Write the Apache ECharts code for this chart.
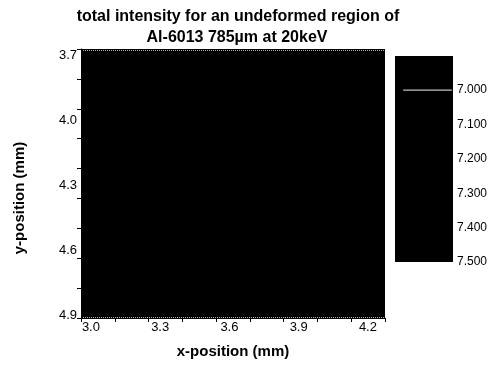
<!DOCTYPE html>
<html>
<head>
<meta charset="utf-8">
<script src="https://cdn.jsdelivr.net/npm/echarts@6/dist/echarts.min.js"></script>
<style>
  html, body { margin: 0; padding: 0; background: #fff; }
  #chart { width: 495px; height: 366px; }
</style>
</head>
<body>
<div id="chart"></div>
<script>
// Scan grid (mm): cell centres along x and y
const xCenters = [3.0, 3.2, 3.4, 3.6, 3.8, 4.0, 4.2];
const yCenters = [3.7, 3.9, 4.1, 4.3, 4.5, 4.7, 4.9];

// Total intensity per cell, one row per y position
const intensity = [
  [7.31, 7.29, 7.33, 7.30, 7.28, 7.32, 7.30],
  [7.30, 7.34, 7.31, 7.29, 7.33, 7.30, 7.31],
  [7.28, 7.31, 7.30, 7.35, 7.31, 7.29, 7.32],
  [7.32, 7.30, 7.29, 7.31, 7.30, 7.33, 7.29],
  [7.29, 7.33, 7.32, 7.30, 7.34, 7.31, 7.30],
  [7.31, 7.28, 7.30, 7.33, 7.29, 7.30, 7.32],
  [7.30, 7.32, 7.31, 7.29, 7.30, 7.31, 7.28]
];

// Axis labels
const xLabels = [3.0, 3.3, 3.6, 3.9, 4.2];
const yLabels = [3.7, 4.0, 4.3, 4.6, 4.9];

// Colour scale levels and the contour level marked on it
const scaleLevels = [6.9, 7.0, 7.1, 7.2, 7.3, 7.4, 7.5];
const scaleLabels = [7.0, 7.1, 7.2, 7.3, 7.4, 7.5];
const contourLevel = 7.0;
const levelColors = ['#000000', '#000000'];

const FONT = '"Liberation Sans", Arial, Helvetica, sans-serif';

const xRange = [2.957, 4.274];
const yRange = [3.672, 4.914];
function evenTicks(r, n) {
  const out = [];
  for (let i = 0; i <= n; i++) out.push(r[0] + (r[1] - r[0]) * i / n);
  return out;
}

const cells = [];
yCenters.forEach((y, j) => {
  xCenters.forEach((x, i) => cells.push([x, y, intensity[j][i]]));
});
const xStep = xCenters[1] - xCenters[0];
const yStep = yCenters[1] - yCenters[0];

const bands = [];
for (let k = 0; k < scaleLevels.length - 1; k++) {
  bands.push([scaleLevels[k], scaleLevels[k + 1]]);
}

// Pixel-snapped rectangle between two corner points
function snappedRect(p0, p1) {
  const x0 = Math.round(Math.min(p0[0], p1[0]));
  const x1 = Math.round(Math.max(p0[0], p1[0]));
  const y0 = Math.round(Math.min(p0[1], p1[1]));
  const y1 = Math.round(Math.max(p0[1], p1[1]));
  return { x: x0, y: y0, width: x1 - x0, height: y1 - y0 };
}

const chart = echarts.init(document.getElementById('chart'), null, { renderer: 'canvas' });

chart.setOption({
  animation: false,
  backgroundColor: '#ffffff',
  graphic: [
    { type: 'text', x: 238, y: 17, style: { text: 'total intensity for an undeformed region of', font: 'bold 16px ' + FONT, fill: '#000', textAlign: 'center', textVerticalAlign: 'middle' } },
    { type: 'text', x: 237, y: 38, style: { text: 'Al-6013 785µm at 20keV', font: 'bold 16px ' + FONT, fill: '#000', textAlign: 'center', textVerticalAlign: 'middle' } },
    { type: 'text', x: 233, y: 352, style: { text: 'x-position (mm)', font: 'bold 15px ' + FONT, fill: '#000', textAlign: 'center', textVerticalAlign: 'middle' } },
    { type: 'text', x: 20, y: 198, rotation: Math.PI / 2, style: { text: 'y-position (mm)', font: 'bold 15px ' + FONT, fill: '#000', textAlign: 'center', textVerticalAlign: 'middle' } }
  ],
  visualMap: {
    show: false,
    type: 'continuous',
    seriesIndex: 0,
    dimension: 2,
    min: 7.0,
    max: 7.5,
    inRange: { color: levelColors }
  },
  grid: [
    { left: 81, top: 49, width: 304, height: 269, outerBoundsMode: 'none' },
    { left: 395, top: 54, width: 58, height: 208, outerBoundsMode: 'none' }
  ],
  xAxis: [
    {
      gridIndex: 0, type: 'value', min: xRange[0], max: xRange[1], z: 5,
      axisLine: { show: true, lineStyle: { color: '#000', width: 1 } },
      axisTick: { show: true, customValues: evenTicks(xRange, 9), length: 4, lineStyle: { color: '#000' } },
      axisLabel: { customValues: xLabels, formatter: v => v.toFixed(1), margin: 3, fontSize: 13, fontFamily: FONT, color: '#000' },
      splitLine: { show: false }
    },
    { gridIndex: 1, type: 'value', min: 0, max: 1, show: false }
  ],
  yAxis: [
    {
      gridIndex: 0, type: 'value', inverse: true, min: yRange[0], max: yRange[1], z: 5,
      axisLine: { show: true, lineStyle: { color: '#000', width: 1 } },
      axisTick: { show: true, customValues: evenTicks(yRange, 9), length: 4, lineStyle: { color: '#000' } },
      axisLabel: { customValues: yLabels, formatter: v => v.toFixed(1), margin: 4, fontSize: 13, fontFamily: FONT, color: '#000' },
      splitLine: { show: false }
    },
    {
      gridIndex: 1, type: 'value', inverse: true, min: 6.895, max: 7.5, position: 'right',
      axisLine: { show: false },
      axisTick: { show: false },
      axisLabel: { customValues: scaleLabels, formatter: v => v.toFixed(3), margin: 4, fontSize: 12, fontFamily: FONT, color: '#000' },
      splitLine: { show: false }
    }
  ],
  series: [
    {
      type: 'custom',
      xAxisIndex: 0, yAxisIndex: 0,
      clip: true,
      data: cells,
      renderItem: function (params, api) {
        const x = api.value(0), y = api.value(1);
        const p0 = api.coord([x - xStep / 2, y - yStep / 2]);
        const p1 = api.coord([x + xStep / 2, y + yStep / 2]);
        return {
          type: 'rect',
          shape: snappedRect(p0, p1),
          style: { fill: api.visual('color') }
        };
      },
      markLine: {
        silent: true,
        symbol: 'none',
        label: { show: false },
        lineStyle: { color: '#b0b0b0', type: 'dotted', width: 1 },
        data: [{ yAxis: 3.68 }, { yAxis: 4.905 }]
      }
    },
    {
      type: 'custom',
      xAxisIndex: 1, yAxisIndex: 1,
      clip: true,
      data: bands,
      renderItem: function (params, api) {
        const p0 = api.coord([0, api.value(0)]);
        const p1 = api.coord([1, api.value(1)]);
        return {
          type: 'rect',
          shape: snappedRect(p0, p1),
          style: { fill: '#000' }
        };
      }
    },
    {
      type: 'line',
      xAxisIndex: 1, yAxisIndex: 1,
      symbol: 'none',
      silent: true,
      z: 5,
      lineStyle: { color: '#f2f2f2', width: 1 },
      data: [[0.14, contourLevel], [0.98, contourLevel]]
    }
  ]
});
</script>
</body>
</html>
